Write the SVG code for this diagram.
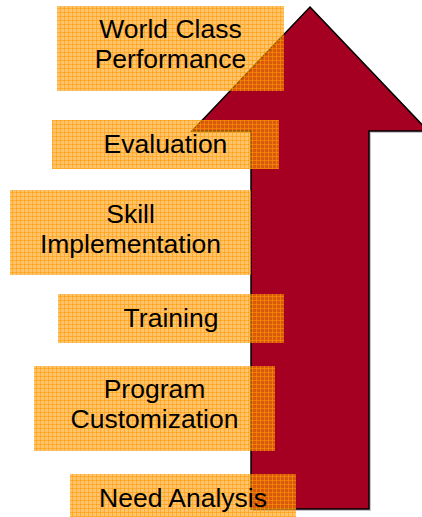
<svg xmlns="http://www.w3.org/2000/svg" width="422" height="517" viewBox="0 0 422 517">
<style>
.box{fill:url(#hatch)}
.lbl{font-family:"Liberation Sans",Arial,sans-serif;font-size:26.5px;fill:#000;text-anchor:middle}
</style>
<defs>
<pattern id="hatch" width="4" height="4" patternUnits="userSpaceOnUse">
<rect width="4" height="4" fill="#FF9900" fill-opacity="0.58"/>
<path d="M0.5,0V4M0,0.5H4" stroke="#FF9900" stroke-opacity="0.55" stroke-width="1"/>
</pattern>
</defs>
<rect width="422" height="517" fill="#fff"/>
<g id="arrow">
<path d="M312,9 L430,133 L371,133 L371,511 L253,511 L253,133 L194,133 Z" fill="#8a7a90" fill-opacity="0.45"/>
<path d="M310,7 L428,131 L369,131 L369,509 L251,509 L251,131 L192,131 Z" fill="#A50021" stroke="#000" stroke-width="1.5" stroke-linejoin="miter"/>
</g>
<g id="world-class-performance">
<rect class="box" x="57" y="6" width="227" height="85"/>
<text class="lbl" x="170.5" y="38">World Class</text>
<text class="lbl" x="170.5" y="68">Performance</text>
</g>
<g id="evaluation">
<rect class="box" x="52" y="120" width="227" height="49"/>
<text class="lbl" x="165.5" y="153">Evaluation</text>
</g>
<g id="skill-implementation">
<rect class="box" x="10" y="190" width="241" height="85"/>
<text class="lbl" x="130.5" y="223">Skill</text>
<text class="lbl" x="130.5" y="253">Implementation</text>
</g>
<g id="training">
<rect class="box" x="58" y="294" width="226" height="49"/>
<text class="lbl" x="171" y="327">Training</text>
</g>
<g id="program-customization">
<rect class="box" x="34" y="366" width="241" height="85"/>
<text class="lbl" x="154.5" y="398">Program</text>
<text class="lbl" x="154.5" y="428">Customization</text>
</g>
<g id="need-analysis">
<rect class="box" x="70" y="474" width="226" height="43"/>
<text class="lbl" x="183" y="507">Need Analysis</text>
</g>
</svg>
